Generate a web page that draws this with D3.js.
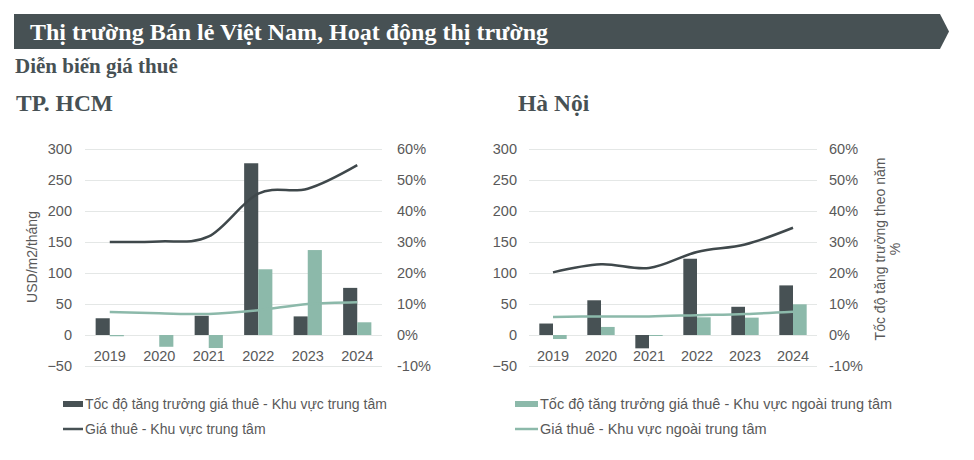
<!DOCTYPE html>
<html>
<head>
<meta charset="utf-8">
<script src="https://cdn.jsdelivr.net/npm/d3@7"></script>
<style>
  body { margin: 0; background: #fff; }
  svg { display: block; }
</style>
</head>
<body>
<svg id="chart" width="974" height="460"></svg>
<script>
// data
var years = ["2019", "2020", "2021", "2022", "2023", "2024"];

// growth, % (right axis) - bars
var hcmCoreGrowth  = [5.4, 0, 6.2, 55.4, 6.0, 15.2];
var hcmOuterGrowth = [-0.4, -3.8, -4.2, 21.2, 27.4, 4.1];
var hnCoreGrowth   = [3.7, 11.2, -4.3, 24.6, 9.1, 16.0];
var hnOuterGrowth  = [-1.3, 2.6, -0.3, 5.7, 5.6, 9.9];

// rent, USD/m2/month (left axis) - lines
var hcmCoreRent  = [150, 151, 159, 228, 236, 274];
var hcmOuterRent = [37, 35, 34, 40, 50, 53];
var hnCoreRent   = [101, 114, 108, 134, 146, 173];
var hnOuterRent  = [29, 30, 30, 32, 34, 37.5];

var rentTicks = [-50, 0, 50, 100, 150, 200, 250, 300];
var pctTicks = [-10, 0, 10, 20, 30, 40, 50, 60];

var legendLeft = ["Tốc độ tăng trưởng giá thuê - Khu vực trung tâm", "Giá thuê - Khu vực trung tâm"];
var legendRight = ["Tốc độ tăng trưởng giá thuê - Khu vực ngoài trung tâm", "Giá thuê - Khu vực ngoài trung tâm"];

var dark = "#475154";
var teal = "#8cb9aa";
var txt = "#595959";
var sans = "'Liberation Sans', Arial, sans-serif";
var serif = "'Liberation Serif', 'Times New Roman', serif";

var svg = d3.select("#chart");

// header banner
svg.append("path")
  .attr("d", "M14,14 L940,14 L949,31.5 L940,49 L14,49 Z")
  .attr("fill", dark);

svg.append("text")
  .attr("x", 30).attr("y", 40)
  .attr("font-family", serif).attr("font-weight", "bold")
  .attr("font-size", 24).attr("fill", "#fff")
  .text("Thị trường Bán lẻ Việt Nam, Hoạt động thị trường");

svg.append("text")
  .attr("x", 15).attr("y", 73)
  .attr("font-family", serif).attr("font-weight", "bold")
  .attr("font-size", 21).attr("fill", dark)
  .text("Diễn biến giá thuê");

function drawChart(opt) {
  var g = svg.append("g");

  g.append("text")
    .attr("x", opt.titleX).attr("y", 111)
    .attr("font-family", serif).attr("font-weight", "bold")
    .attr("font-size", 23.5).attr("fill", dark)
    .text(opt.title);

  var x = d3.scaleBand().domain(years).range([opt.x0, opt.x1]).paddingInner(0.43).paddingOuter(0.215);
  var xs = d3.scaleBand().domain([0, 1]).range([0, x.bandwidth()]);
  var yL = d3.scaleLinear().domain([-50, 300]).range([366, 149]);
  var yR = d3.scaleLinear().domain([-10, 60]).range([366, 149]);

  // grid + left axis
  var ax = g.append("g")
    .attr("transform", "translate(" + opt.x0 + ",0)")
    .call(d3.axisLeft(yL).tickValues(rentTicks).tickSize(-(opt.x1 - opt.x0)).tickPadding(opt.padL));
  ax.select(".domain").remove();
  ax.selectAll("line").attr("stroke", "#e4e7e6");
  ax.selectAll("text").attr("font-family", sans).attr("font-size", 14.5).attr("fill", txt);

  var axR = g.append("g")
    .attr("transform", "translate(" + opt.x1 + ",0)")
    .call(d3.axisRight(yR).tickValues(pctTicks).tickSize(0).tickPadding(opt.padR).tickFormat(function (d) { return d + "%"; }));
  axR.select(".domain").remove();
  axR.selectAll("text").attr("font-family", sans).attr("font-size", 14.5).attr("fill", txt);

  var axX = g.append("g")
    .attr("transform", "translate(0,345)")
    .call(d3.axisBottom(x).tickSize(0).tickPadding(6));
  axX.select(".domain").remove();
  axX.selectAll("text").attr("font-family", sans).attr("font-size", 14.5).attr("fill", txt);

  // bars
  [[opt.core, dark], [opt.outer, teal]].forEach(function (s, i) {
    g.append("g").selectAll("rect")
      .data(s[0].filter(function (d) { return d != 0; }).length ? s[0] : [])
      .join("rect")
      .attr("x", function (d, j) { return x(years[j]) + xs(i); })
      .attr("width", xs.bandwidth())
      .attr("y", function (d) { return yR(Math.max(0, d)); })
      .attr("height", function (d) { return d == 0 ? 0 : Math.max(Math.abs(yR(d) - yR(0)), 1); })
      .attr("fill", s[1]);
  });

  // lines
  var line = d3.line()
    .x(function (d, j) { return x(years[j]) + x.bandwidth() / 2; })
    .y(function (d) { return yL(d); })
    .curve(d3.curveCatmullRom.alpha(0));

  [[opt.coreRent, "#3f484b"], [opt.outerRent, teal]].forEach(function (s) {
    g.append("path")
      .datum(s[0])
      .attr("d", line)
      .attr("fill", "none")
      .attr("stroke", s[1])
      .attr("stroke-width", 2.5);
  });

  // legend
  opt.legend.forEach(function (label, i) {
    var ly = 404 + i * 25;
    if (i == 0) {
      g.append("rect").attr("x", opt.legX).attr("y", ly - 3).attr("width", opt.legW).attr("height", 6).attr("fill", opt.legColor);
    } else {
      g.append("line").attr("x1", opt.legX).attr("x2", opt.legX + opt.legW)
        .attr("y1", ly).attr("y2", ly).attr("stroke", opt.legColor).attr("stroke-width", 2.5);
    }
    g.append("text")
      .attr("x", opt.legX + opt.legW + 2).attr("y", ly)
      .attr("dy", "0.35em")
      .attr("font-family", sans).attr("font-size", opt.legFont).attr("fill", txt)
      .text(label);
  });
}

drawChart({
  title: "TP. HCM", titleX: 16,
  x0: 85, x1: 382, padL: 13, padR: 15,
  core: hcmCoreGrowth, outer: hcmOuterGrowth,
  coreRent: hcmCoreRent, outerRent: hcmOuterRent,
  legend: legendLeft, legX: 63, legW: 20, legColor: dark, legFont: 14
});

drawChart({
  title: "Hà Nội", titleX: 518,
  x0: 529, x1: 817, padL: 12, padR: 12,
  core: hnCoreGrowth, outer: hnOuterGrowth,
  coreRent: hnCoreRent, outerRent: hnOuterRent,
  legend: legendRight, legX: 515, legW: 23, legColor: teal, legFont: 14.5
});

// axis titles
svg.append("text")
  .attr("transform", "translate(37,257) rotate(-90)")
  .attr("text-anchor", "middle")
  .attr("font-family", sans).attr("font-size", 14).attr("fill", txt)
  .text("USD/m2/tháng");

var rt = svg.append("text")
  .attr("transform", "translate(885,249) rotate(-90)")
  .attr("text-anchor", "middle")
  .attr("font-family", sans).attr("font-size", 14).attr("fill", txt);
rt.append("tspan").attr("x", 0).attr("y", 0).text("Tốc độ tăng trưởng theo năm");
rt.append("tspan").attr("x", 0).attr("y", 15).text("%");
</script>
</body>
</html>
